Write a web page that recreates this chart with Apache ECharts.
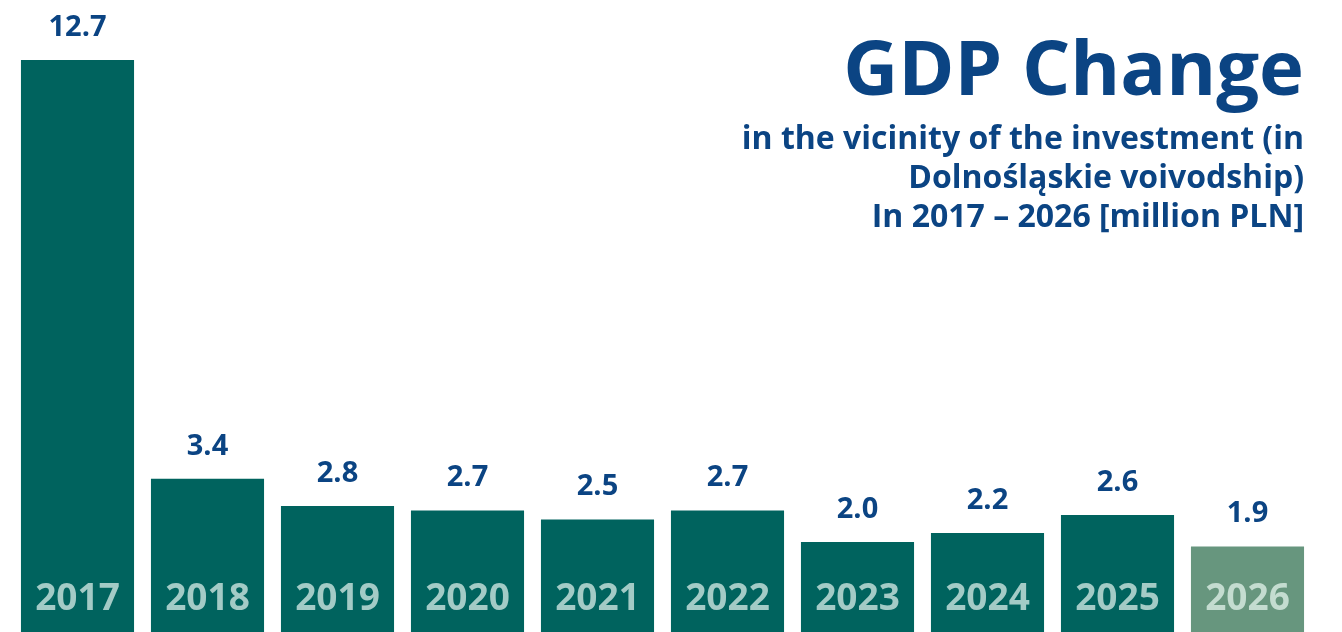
<!DOCTYPE html>
<html>
<head>
<meta charset="utf-8">
<script src="https://cdn.jsdelivr.net/npm/echarts@6/dist/echarts.min.js"></script>
<style>
  html, body { margin: 0; padding: 0; background: #ffffff; }
  #chart { width: 1342px; height: 632px; }
</style>
</head>
<body>
<div id="chart"></div>
<script>
// GDP change near the investment, million PLN per year
const years = ['2017', '2018', '2019', '2020', '2021', '2022', '2023', '2024', '2025', '2026'];
const gdpChange = [12.7, 3.4, 2.8, 2.7, 2.5, 2.7, 2.0, 2.2, 2.6, 1.9];
const forecastYear = '2026';

const titleText = 'GDP Change';
const subtitleLines = [
  'in the vicinity of the investment (in',
  'Dolnośląskie voivodship)',
  'In 2017 – 2026 [million PLN]'
];

const FONT = '"Open Sans", "Noto Sans", sans-serif';
const BAR = '#00635e';
const BAR_FORECAST = '#67967e';
const YEAR_TXT = '#a3cbc6';
const YEAR_TXT_FORECAST = '#c4dcd0';
const BLUE = '#0b4483';

const chart = echarts.init(document.getElementById('chart'), null, { renderer: 'canvas' });

// right-aligned heading block in the upper right corner
const TEXT_RIGHT = 1304;
const headingGraphics = [{
  type: 'text',
  x: TEXT_RIGHT,
  y: 73,
  style: {
    text: titleText,
    align: 'right',
    verticalAlign: 'middle',
    fill: BLUE,
    font: 'bold 76px ' + FONT
  }
}].concat(subtitleLines.map((line, i) => ({
  type: 'text',
  x: TEXT_RIGHT,
  y: 140 + i * 39,
  style: {
    text: line,
    align: 'right',
    verticalAlign: 'middle',
    fill: BLUE,
    font: 'bold 32px ' + FONT
  }
})));

chart.setOption({
  backgroundColor: '#ffffff',
  animation: false,
  graphic: headingGraphics,
  grid: { left: 12.5, right: 29.5, top: 60, bottom: 0, containLabel: false },
  xAxis: {
    type: 'category',
    data: years.map(y => y === forecastYear
      ? { value: y, textStyle: { color: YEAR_TXT_FORECAST } }
      : y),
    axisLine: { show: false },
    axisTick: { show: false },
    axisLabel: {
      inside: true,
      margin: 14,
      color: YEAR_TXT,
      fontFamily: FONT,
      fontWeight: 'bold',
      fontSize: 37
    },
    z: 10
  },
  yAxis: {
    type: 'value',
    min: 0,
    max: 12.7,
    show: false,
    splitLine: { show: false }
  },
  series: [{
    type: 'bar',
    data: gdpChange.map((v, i) => ({
      value: v,
      itemStyle: { color: years[i] === forecastYear ? BAR_FORECAST : BAR }
    })),
    barCategoryGap: '13%',
    label: {
      show: true,
      position: 'top',
      distance: 18,
      color: BLUE,
      fontFamily: FONT,
      fontWeight: 'bold',
      fontSize: 29,
      formatter: p => p.value.toFixed(1)
    }
  }]
});
</script>
</body>
</html>
